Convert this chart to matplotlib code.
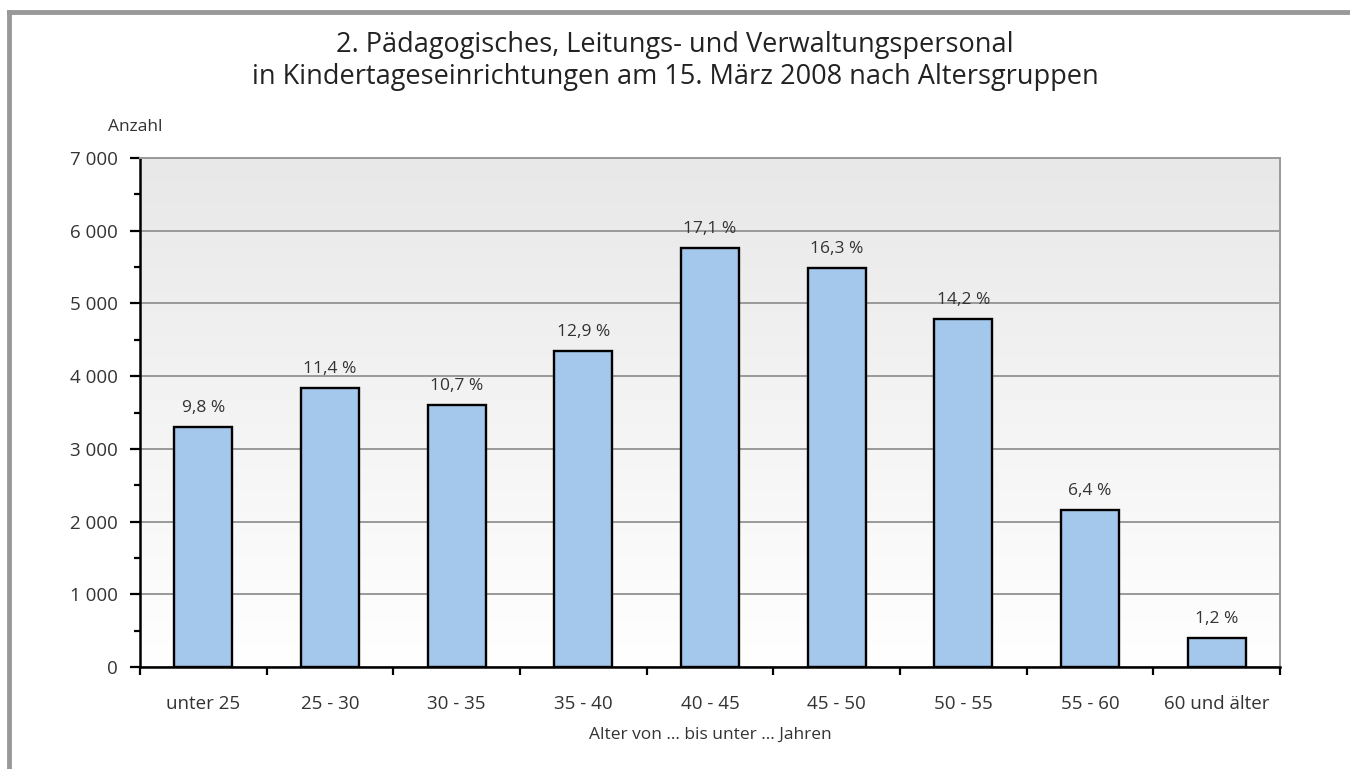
import matplotlib.pyplot as plt
import numpy as np
from matplotlib.ticker import MultipleLocator, FuncFormatter

plt.rcParams['font.family'] = ['Open Sans', 'DejaVu Sans']

# data
categories = ['unter 25', '25 - 30', '30 - 35', '35 - 40', '40 - 45',
              '45 - 50', '50 - 55', '55 - 60', '60 und älter']
anzahl = [3300, 3840, 3605, 4345, 5760, 5490, 4785, 2155, 405]
anteil = ['9,8 %', '11,4 %', '10,7 %', '12,9 %', '17,1 %',
          '16,3 %', '14,2 %', '6,4 %', '1,2 %']

txt = '#333333'

fig = plt.figure(figsize=(13.5, 7.69), dpi=100)
ax = fig.add_axes([140/1350, 1 - 667/769, 1140/1350, 509/769])

x = np.arange(len(categories))

# background gradient, gray at top to white at bottom
grad = np.linspace(0, 1, 256).reshape(-1, 1)
ax.imshow(grad, cmap=plt.matplotlib.colors.LinearSegmentedColormap.from_list(
    'bg', ['#ffffff', '#e8e8e8']), aspect='auto', origin='lower',
    extent=(-0.5, len(categories) - 0.5, 0, 7000), zorder=0)

ax.bar(x, anzahl, width=0.46, color='#a3c8ec', edgecolor='black',
       linewidth=1.7, zorder=3)

for xi, v, p in zip(x, anzahl, anteil):
    ax.text(xi, v + 150, p, ha='center', va='bottom', fontsize=12.5, color=txt)

ax.set_xlim(-0.5, len(categories) - 0.5)
ax.set_ylim(0, 7000)

# gridlines
ax.yaxis.set_major_locator(MultipleLocator(1000))
ax.yaxis.set_minor_locator(MultipleLocator(500))
ax.grid(axis='y', which='major', color='#999999', linewidth=1.4, zorder=1)
ax.set_axisbelow(True)
ax.yaxis.set_major_formatter(FuncFormatter(
    lambda v, pos: f'{int(v):,}'.replace(',', ' ')))

ax.set_xticks(x)
ax.set_xticklabels(categories, fontsize=13.5, color=txt)
ax.tick_params(axis='x', which='major', length=0, pad=20)
ax.set_xticks(np.arange(-0.5, len(categories)), minor=True)
ax.tick_params(axis='x', which='minor', length=6, width=1.6, direction='out')

ax.tick_params(axis='y', which='major', labelsize=13.5, labelcolor=txt,
               length=7, width=1.6, pad=9)
ax.tick_params(axis='y', which='minor', length=4, width=1.6)

ax.spines['left'].set_linewidth(1.8)
ax.spines['bottom'].set_linewidth(1.8)
ax.spines['top'].set_color('#999999')
ax.spines['right'].set_color('#999999')
ax.spines['top'].set_linewidth(1.4)
ax.spines['right'].set_linewidth(1.4)

ax.set_xlabel('Alter von … bis unter … Jahren', fontsize=12.5, color=txt,
              labelpad=10)

fig.text(163/1350, 1 - 127/769, 'Anzahl', ha='right', va='center',
         fontsize=12.5, color=txt)

fig.text(0.5, 1 - 61/769,
         '2. Pädagogisches, Leitungs- und Verwaltungspersonal\n'
         'in Kindertageseinrichtungen am 15. März 2008 nach Altersgruppen',
         ha='center', va='center', fontsize=19.5, color='#222222',
         linespacing=1.22)

# frame lines at top and left
fig.add_artist(plt.Line2D([9/1350, 1], [1 - 12/769, 1 - 12/769],
                          color='#999999', linewidth=3.5))
fig.add_artist(plt.Line2D([9/1350, 9/1350], [0, 1 - 12/769],
                          color='#999999', linewidth=3.5))

fig.savefig('out.png', dpi=100)
